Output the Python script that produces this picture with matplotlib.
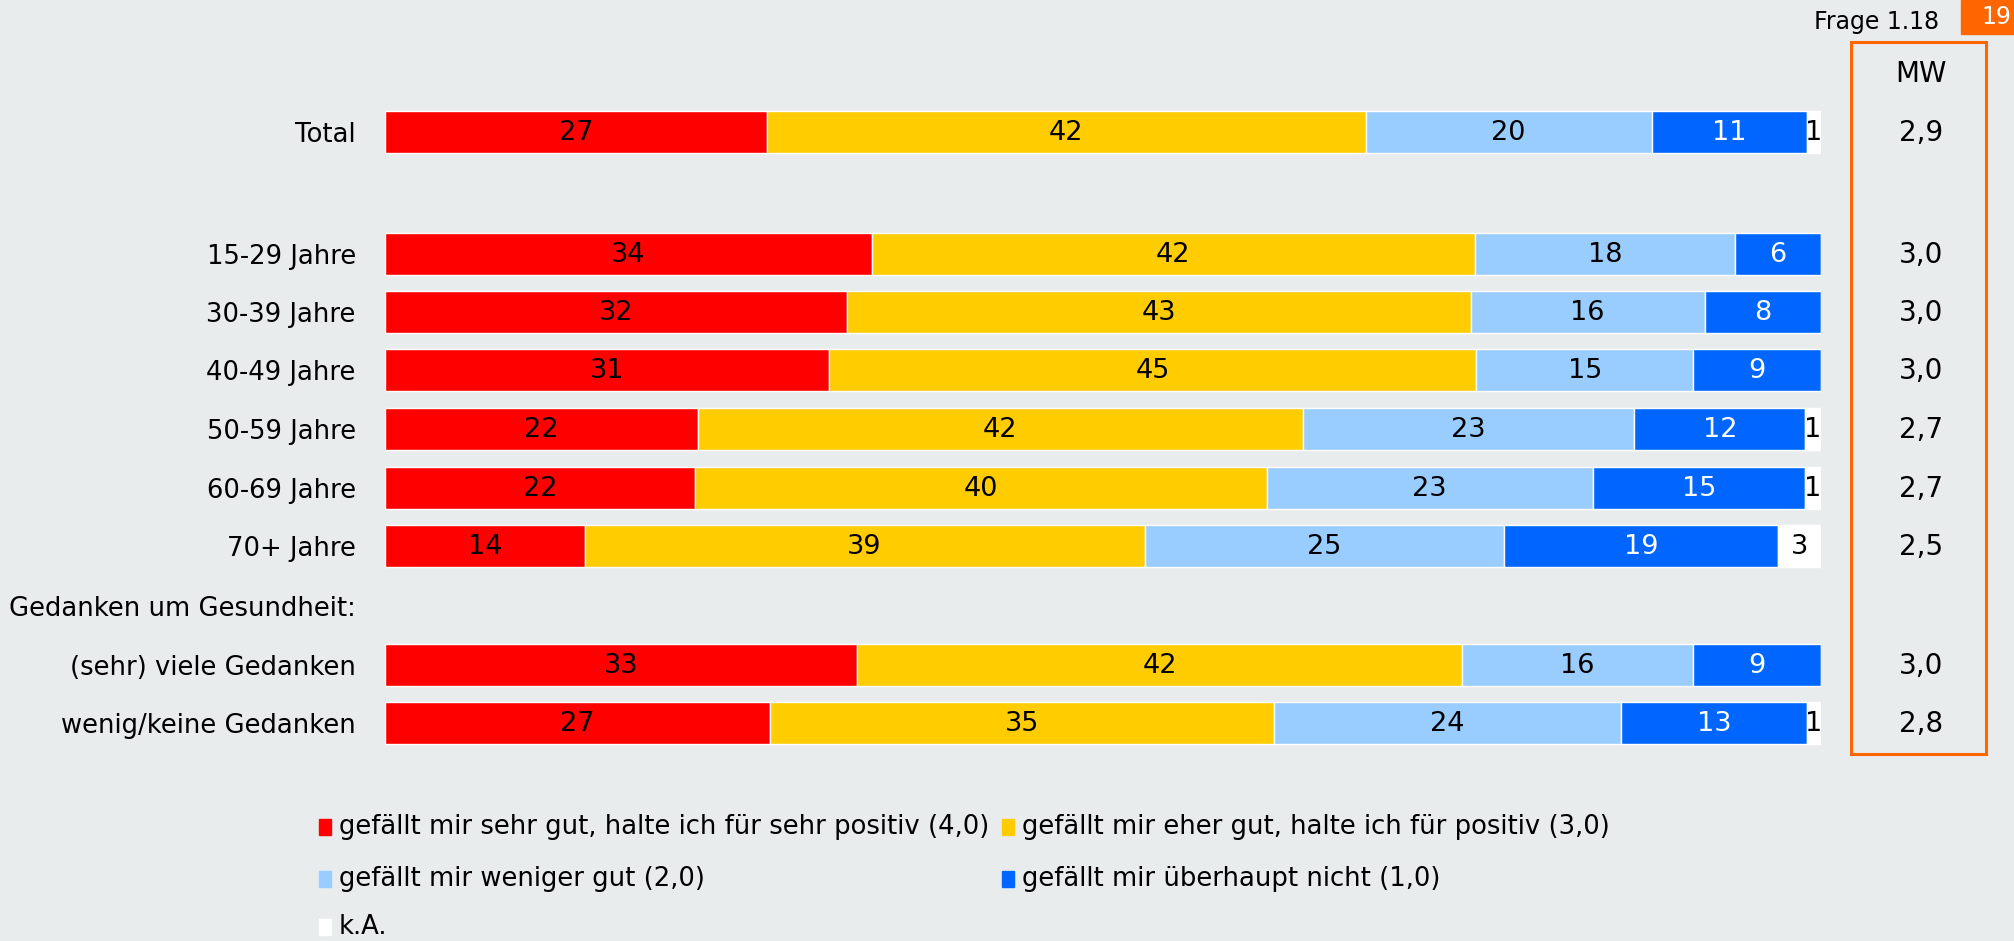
import matplotlib
matplotlib.use("Agg")
import matplotlib.pyplot as plt
from matplotlib.patches import Rectangle
from matplotlib.transforms import blended_transform_factory

plt.rcParams['font.family'] = ['DejaVu Sans']

# ---------------- data ----------------
labels = ["Total", "15-29 Jahre", "30-39 Jahre", "40-49 Jahre", "50-59 Jahre",
          "60-69 Jahre", "70+ Jahre", "(sehr) viele Gedanken", "wenig/keine Gedanken"]
header_label = "Gedanken um Gesundheit:"

series_names = ["gefällt mir sehr gut, halte ich für sehr positiv (4,0)",
                "gefällt mir eher gut, halte ich für positiv (3,0)",
                "gefällt mir weniger gut (2,0)",
                "gefällt mir überhaupt nicht (1,0)",
                "k.A."]
sehr_gut = [26.6, 33.9, 32.2, 30.9, 21.8, 21.6, 13.9, 32.9, 26.8]
eher_gut = [41.7, 42.0, 43.4, 45.1, 42.1, 39.8, 39.0, 42.1, 35.1]
weniger_gut = [19.9, 18.1, 16.3, 15.1, 23.1, 22.7, 25.0, 16.1, 24.2]
ueberhaupt_nicht = [10.8, 6.0, 8.1, 8.9, 11.9, 14.8, 19.1, 8.9, 12.9]
keine_angabe = [1.0, 0, 0, 0, 1.1, 1.1, 3.0, 0, 1.0]
mw = [2.9, 3.0, 3.0, 3.0, 2.7, 2.7, 2.5, 3.0, 2.8]

# ---------------- layout / style ----------------
W, H = 2014, 941
BG = "#E9ECED"
colors = ["#FF0000", "#FFCC00", "#99CCFF", "#0066FF", "#FFFFFF"]
text_colors = ["black", "black", "black", "white", "black"]
row_y = [0, 2.078, 3.063, 4.048, 5.054, 6.061, 7.046, 9.08, 10.065]
header_y = 8.073
px_unit = 58.7
top_px = 132.3 - px_unit
bottom_unit = 11.065
bottom_px = top_px + (bottom_unit + 1) * px_unit
FS = 18.6

fig = plt.figure(figsize=(W / 100, H / 100), dpi=100, facecolor=BG)
ax = fig.add_axes([385 / W, 1 - bottom_px / H, 1436 / W, (bottom_px - top_px) / H])
ax.set_facecolor(BG)
ax.set_xlim(0, 100)
ax.set_ylim(bottom_unit, -1)

series = [sehr_gut, eher_gut, weniger_gut, ueberhaupt_nicht, keine_angabe]
left = [0.0] * len(labels)
for s, (vals, col, tcol) in enumerate(zip(series, colors, text_colors)):
    ax.barh(row_y, vals, left=left, height=0.72, color=col, edgecolor="white",
            linewidth=1.0, label=series_names[s])
    for i, v in enumerate(vals):
        if v > 0:
            ax.text(left[i] + v / 2, row_y[i] + 0.02, f"{round(v)}", ha="center", va="center",
                    fontsize=19.5, color=tcol)
    left = [l + v for l, v in zip(left, vals)]

ax.set_yticks(row_y + [header_y])
ax.set_yticklabels(labels + [header_label], fontsize=FS)
ax.tick_params(axis="y", length=0, pad=21)
ax.set_xticks([])
for sp in ax.spines.values():
    sp.set_visible(False)

# MW column
trans = blended_transform_factory(fig.transFigure, ax.transData)
for y, v in zip(row_y, mw):
    ax.text(1921 / W, y + 0.02, f"{v:.1f}".replace(".", ","), transform=trans,
            ha="center", va="center", fontsize=20)
fig.text(1921 / W, 1 - 74 / H, "MW", ha="center", va="center", fontsize=20)
fig.patches.append(Rectangle((1851 / W, 1 - 754 / H), (1986 - 1851) / W, (754 - 42) / H,
                             transform=fig.transFigure, fill=False,
                             edgecolor="#FF6600", linewidth=2.2))

# header elements
fig.text(1939 / W, 1 - 22 / H, "Frage 1.18", ha="right", va="center", fontsize=17)
fig.patches.append(Rectangle((1961 / W, 1 - 34 / H), (W - 1961) / W, 34 / H,
                             transform=fig.transFigure, color="#FF6600"))
fig.text(1996 / W, 1 - 17 / H, "19", ha="center", va="center", fontsize=17, color="white")

# legend (manual)
leg_pos = [(319, 827), (1002, 827), (319, 879), (1002, 879), (319, 927)]
for (x, y), col, name in zip(leg_pos, colors, series_names):
    fig.patches.append(Rectangle((x / W, 1 - (y + 8) / H), 12 / W, 16 / H,
                                 transform=fig.transFigure, color=col))
    fig.text((x + 20) / W, 1 - y / H, name, ha="left", va="center", fontsize=18.6)

fig.savefig("out.png", dpi=100, facecolor=BG)
